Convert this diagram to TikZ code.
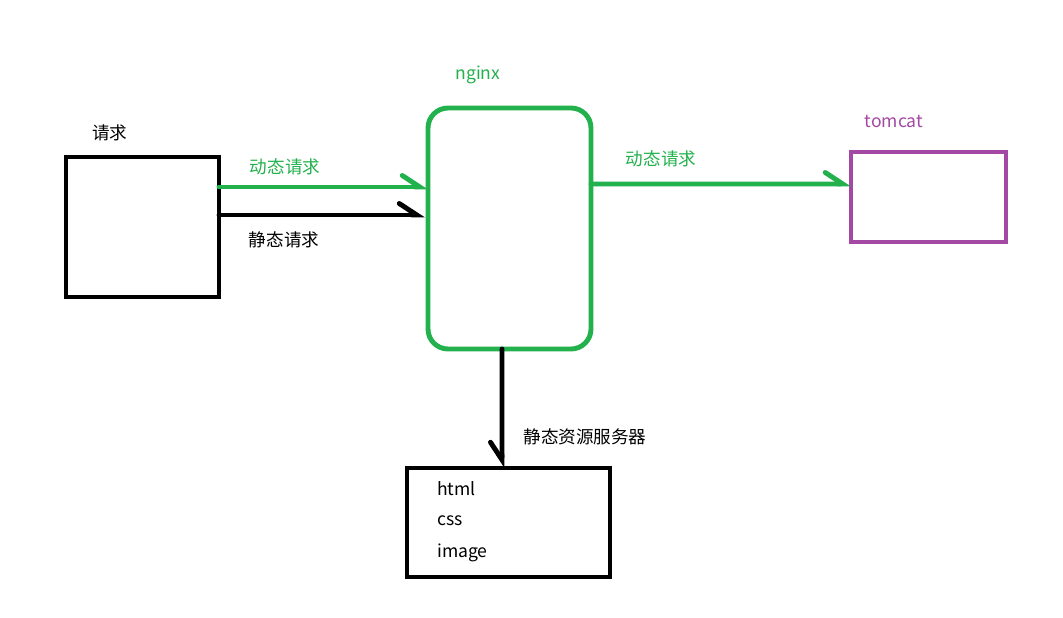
\documentclass[tikz,border=0pt]{standalone}
\usepackage{fontspec}
\setmainfont{Noto Sans CJK SC}
\usetikzlibrary{arrows.meta}
\definecolor{paintgreen}{HTML}{22B14C}
\definecolor{paintpurple}{HTML}{A349A4}
\begin{document}
\begin{tikzpicture}[
  font=\fontsize{10}{12}\selectfont,
  box/.style={draw, line width=2.8pt, inner sep=0pt, outer sep=0pt},
  pfeil/.style={line width=2.8pt, line cap=round,
    -{Straight Barb[harpoon, length=3.5mm, width=4.6mm, line cap=round]}},
  pfeilr/.style={line width=2.8pt, line cap=round,
    -{Straight Barb[harpoon, swap, length=3.5mm, width=4.6mm, line cap=round]}}]
\useasboundingbox (0,0) rectangle (21.26,12.34);
% Kaesten
\node[box, minimum width=3.06cm, minimum height=2.8cm] (req) at (2.85,7.8) {};
\node[box, paintgreen, rounded corners=0.4cm, minimum width=3.26cm, minimum height=4.82cm] (nginx) at (10.19,7.77) {};
\node[box, paintpurple, minimum width=3.1cm, minimum height=1.8cm] (tomcat) at (18.57,8.4) {};
\node[box, minimum width=4.06cm, minimum height=2.18cm] (static) at (10.17,1.89) {};
% Pfeile
\draw[pfeil, paintgreen] ([yshift=0.8cm]req.east) -- ([yshift=0.83cm]nginx.west);
\draw[pfeil] ([yshift=0.24cm]req.east) -- ([yshift=0.27cm,xshift=-0.06cm]nginx.west);
\draw[pfeil, paintgreen] ([yshift=0.89cm]nginx.east) -- ([yshift=0.26cm]tomcat.west);
\draw[pfeilr] ([xshift=-0.15cm]nginx.south) -- ([xshift=-0.13cm]static.north);
% Beschriftungen
\node (lreq) at (2.2,9.68) {请求};
\node[paintgreen] (lnginx) at (9.56,10.84) {nginx};
\node[paintpurple] (ltomcat) at (17.88,9.92) {tomcat};
\node[paintgreen] (ldyn1) at (5.7,9.0) {动态请求};
\node (lstat) at (5.68,7.54) {静态请求};
\node[paintgreen] (ldyn2) at (13.22,9.16) {动态请求};
\node (lres) at (11.7,3.6) {静态资源服务器};
\node[anchor=west] (html) at (8.62,2.56) {html};
\node[anchor=west] (css) at (8.62,1.92) {css};
\node[anchor=west] (image) at (8.62,1.28) {image};
\end{tikzpicture}
\end{document}
